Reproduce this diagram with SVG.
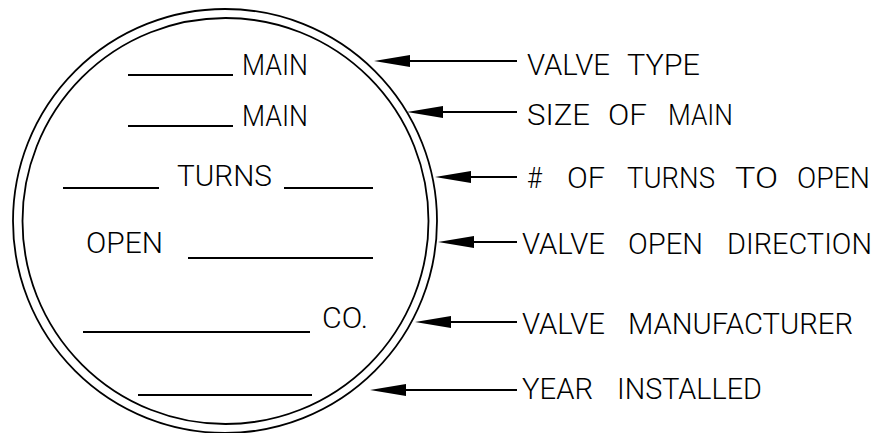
<svg xmlns="http://www.w3.org/2000/svg" width="893" height="433" viewBox="0 0 893 433">
<style>
.t{font-family:Roboto,"Liberation Sans",Arial,sans-serif;font-weight:300;font-size:29.5px;fill:#000}
.u{stroke:#000;stroke-width:2;fill:none}
.c{stroke:#000;stroke-width:1.8;fill:none}
.a{stroke:#000;stroke-width:2;fill:none}
</style>
<defs>
<path id="ah" d="M0,0 L36,-6 L36,6 Z" fill="#000"/>
</defs>
<rect width="893" height="433" fill="#fff"/>
<g id="tag">
<circle class="c" cx="225" cy="221" r="212"/>
<circle class="c" cx="225.5" cy="221" r="203"/>
</g>
<g id="row-valve-type">
<line class="u" x1="128" y1="75" x2="233" y2="75"/>
<text class="t" x="242" y="75" textLength="66" lengthAdjust="spacingAndGlyphs">MAIN</text>
</g>
<g id="row-size">
<line class="u" x1="128" y1="126" x2="233" y2="126"/>
<text class="t" x="242" y="126" textLength="66" lengthAdjust="spacingAndGlyphs">MAIN</text>
</g>
<g id="row-turns">
<line class="u" x1="63" y1="188" x2="159" y2="188"/>
<text class="t" x="177" y="186" textLength="95" lengthAdjust="spacingAndGlyphs">TURNS</text>
<line class="u" x1="284" y1="188" x2="373" y2="188"/>
</g>
<g id="row-open">
<text class="t" x="86" y="253" textLength="77" lengthAdjust="spacingAndGlyphs">OPEN</text>
<line class="u" x1="188" y1="258" x2="373" y2="258"/>
</g>
<g id="row-co">
<line class="u" x1="83" y1="332" x2="310" y2="332"/>
<text class="t" x="322" y="328" textLength="46" lengthAdjust="spacingAndGlyphs">CO.</text>
</g>
<g id="row-year">
<line class="u" x1="138" y1="395" x2="312" y2="395"/>
</g>
<g id="connectors">
<line class="a" x1="400" y1="61" x2="517" y2="61"/><use href="#ah" x="374" y="61"/>
<line class="a" x1="430" y1="112" x2="517" y2="112"/><use href="#ah" x="407" y="112"/>
<line class="a" x1="460" y1="177" x2="517" y2="177"/><use href="#ah" x="435" y="177"/>
<line class="a" x1="460" y1="242" x2="517" y2="242"/><use href="#ah" x="438" y="242"/>
<line class="a" x1="440" y1="322" x2="517" y2="322"/><use href="#ah" x="415" y="322"/>
<line class="a" x1="395" y1="390" x2="517" y2="390"/><use href="#ah" x="370" y="390"/>
</g>
<g id="label-valve-type">
<text class="t" y="75"><tspan x="527" textLength="83" lengthAdjust="spacingAndGlyphs">VALVE</tspan> <tspan x="627" textLength="73" lengthAdjust="spacingAndGlyphs">TYPE</tspan></text>
</g>
<g id="label-size">
<text class="t" y="125"><tspan x="527" textLength="63" lengthAdjust="spacingAndGlyphs">SIZE</tspan> <tspan x="608" textLength="39" lengthAdjust="spacingAndGlyphs">OF</tspan> <tspan x="668" textLength="65" lengthAdjust="spacingAndGlyphs">MAIN</tspan></text>
</g>
<g id="label-turns">
<text class="t" y="188"><tspan x="527" textLength="15" lengthAdjust="spacingAndGlyphs">#</tspan> <tspan x="567" textLength="38" lengthAdjust="spacingAndGlyphs">OF</tspan> <tspan x="627" textLength="88" lengthAdjust="spacingAndGlyphs">TURNS</tspan> <tspan x="735" textLength="43" lengthAdjust="spacingAndGlyphs">TO</tspan> <tspan x="797" textLength="73" lengthAdjust="spacingAndGlyphs">OPEN</tspan></text>
</g>
<g id="label-direction">
<text class="t" y="254"><tspan x="522" textLength="83" lengthAdjust="spacingAndGlyphs">VALVE</tspan> <tspan x="628" textLength="75" lengthAdjust="spacingAndGlyphs">OPEN</tspan> <tspan x="727" textLength="145" lengthAdjust="spacingAndGlyphs">DIRECTION</tspan></text>
</g>
<g id="label-manufacturer">
<text class="t" y="334"><tspan x="522" textLength="83" lengthAdjust="spacingAndGlyphs">VALVE</tspan> <tspan x="628" textLength="225" lengthAdjust="spacingAndGlyphs">MANUFACTURER</tspan></text>
</g>
<g id="label-year">
<text class="t" y="399"><tspan x="522" textLength="71" lengthAdjust="spacingAndGlyphs">YEAR</tspan> <tspan x="617" textLength="145" lengthAdjust="spacingAndGlyphs">INSTALLED</tspan></text>
</g>
</svg>
